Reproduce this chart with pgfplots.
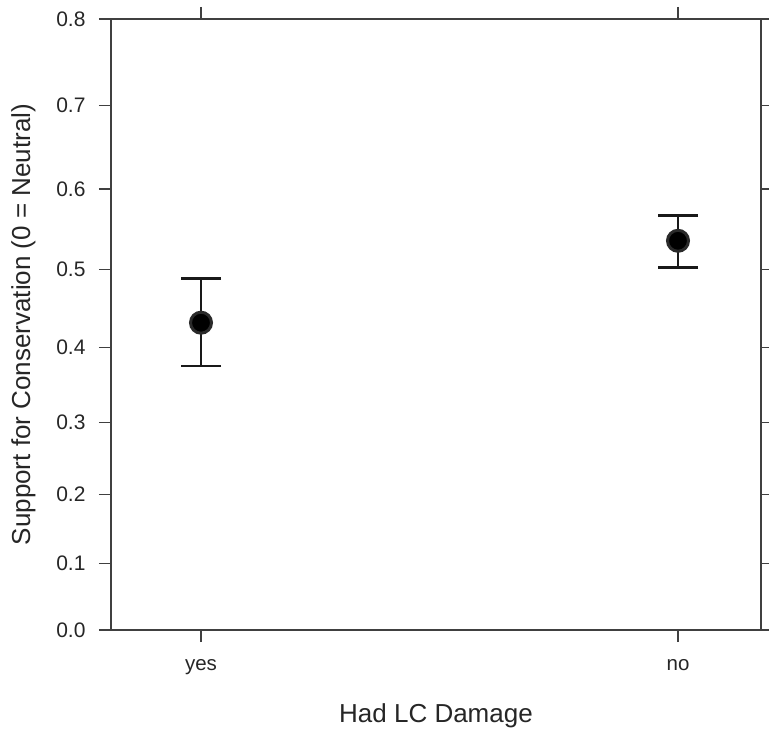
\documentclass[border=0pt]{standalone}
\usepackage{fontspec}
\setmainfont{Liberation Sans}
\usepackage{pgfplots}
\pgfplotsset{compat=1.18}
\definecolor{axgray}{HTML}{404040}
\definecolor{ringgray}{HTML}{2A2A2A}
\begin{document}
\begin{tikzpicture}[x=1pt,y=1pt]
\begin{axis}[
  at={(0pt,0pt)}, anchor=south west,
  scale only axis,
  width=650pt, height=611pt,
  xmin=0.8113, xmax=2.174,
  ymin=0, ymax=0.8,
  y coord trafo/.code={\pgfmathparse{#1+0.2193*#1*#1}},
  xtick={1,2}, xticklabels={yes,no},
  ytick={0,0.1,0.2,0.3,0.4,0.5,0.6,0.7,0.8},
  yticklabels={0.0,0.1,0.2,0.3,0.4,0.5,0.6,0.7,0.8},
  tick pos=both,
  tick align=outside,
  major tick length=12pt,
  axis line style={axgray, line width=1.4pt},
  every tick/.style={axgray, line width=1.4pt},
  /pgf/number format/assume math mode=true,
  ticklabel style={font=\fontsize{21}{25}\selectfont, text=black!85},
  xticklabel style={font=\fontsize{20.5}{24}\selectfont, yshift=-14pt},
  yticklabel style={xshift=-10pt},
  xlabel={Had LC Damage},
  ylabel={Support for Conservation (0 = Neutral)},
  label style={font=\fontsize{26}{30}\selectfont, text=black!85},
  xlabel style={yshift=-22pt},
  ylabel style={yshift=14pt},
  clip=false,
]
% whiskers with caps
\addplot[black!90, line width=2.8pt, mark=-, mark size=20pt,
  mark options={line width=2.8pt}] coordinates {(1,0.3754) (1,0.489)};
\addplot[black!90, line width=2.8pt, mark=-, mark size=20pt,
  mark options={line width=2.8pt}] coordinates {(2,0.503) (2,0.567)};
% means
\addplot[only marks, mark=*, mark size=10.5pt,
  mark options={fill=black, draw=ringgray, line width=3pt}]
  coordinates {(1,0.432) (2,0.536)};
\end{axis}
\pgfresetboundingbox
\path[use as bounding box] (-111pt,-99pt) rectangle (658pt,630pt);
\end{tikzpicture}
\end{document}
